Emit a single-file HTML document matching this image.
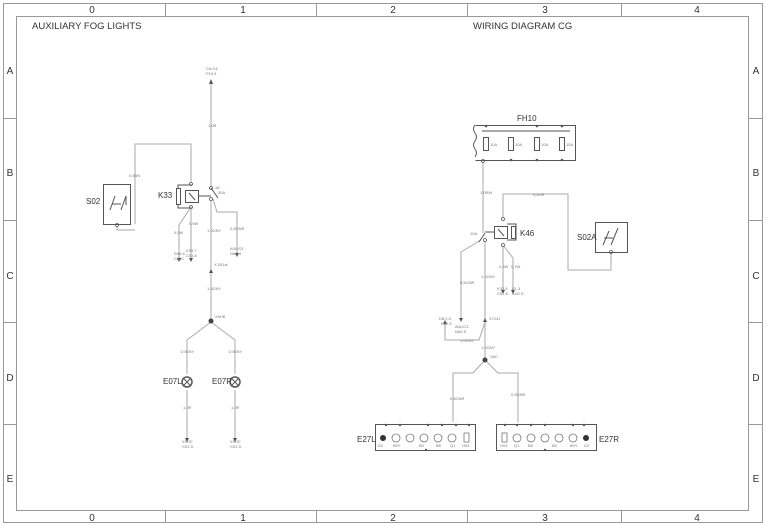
<!DOCTYPE html>
<html><head><meta charset="utf-8"><style>
html,body{margin:0;padding:0;background:#fff}
svg{display:block}
text{font-family:"Liberation Sans",sans-serif}
.s{font-size:4px;fill:#777}
</style></head><body>
<svg width="766" height="526" viewBox="0 0 766 526" xmlns="http://www.w3.org/2000/svg">
<g fill="none" stroke="#999" stroke-width="1">
<rect x="3.5" y="3.5" width="759" height="519"/>
<rect x="16.5" y="16.5" width="732" height="494"/>
<path d="M165.5 3v13M316.5 3v13M467.5 3v13M621.5 3v13M165.5 511v12M316.5 511v12M467.5 511v12M621.5 511v12"/>
<path d="M3 118.5h13M3 220.5h13M3 322.5h13M3 424.5h13M749 118.5h14M749 220.5h14M749 322.5h14M749 424.5h14"/>
</g>
<g font-size="10" fill="#333" text-anchor="middle">
<text x="92" y="13">0</text><text x="243" y="13">1</text><text x="393" y="13">2</text><text x="545" y="13">3</text><text x="697" y="13">4</text>
<text x="92" y="521">0</text><text x="243" y="521">1</text><text x="393" y="521">2</text><text x="545" y="521">3</text><text x="697" y="521">4</text>
<text x="10" y="74">A</text><text x="10" y="176">B</text><text x="10" y="279">C</text><text x="10" y="381">D</text><text x="10" y="482">E</text>
<text x="756" y="74">A</text><text x="756" y="176">B</text><text x="756" y="279">C</text><text x="756" y="381">D</text><text x="756" y="482">E</text>
</g>
<text x="32" y="29" font-size="9.5" fill="#333">AUXILIARY FOG LIGHTS</text>
<text x="473" y="29" font-size="9.5" fill="#333">WIRING DIAGRAM CG</text>

<!-- LEFT CIRCUIT -->
<g fill="none" stroke="#aaa" stroke-width="1">
<path d="M211 82V188M211 199V322M211 322L187 340V374M211 322L235 340V374M187 390V440M235 390V440"/>
<path d="M135 224V144H191V184M117 224V230H135"/>
<path d="M191 207L179 225V260M191 207V260M213 199L217 212H237V255"/>
</g>
<g fill="#555">
<path d="M209 84l2-5 2 5z"/>
<path d="M177 258l2 4 2-4zM189 258l2 4 2-4zM235 253l2 4 2-4zM185 438l2 4 2-4zM233 438l2 4 2-4zM209 273l2-4 2 4z"/>
</g>
<g fill="#fff" stroke="#555" stroke-width="0.8">
<circle cx="191" cy="184" r="1.5"/><circle cx="191" cy="207" r="1.5"/><circle cx="211" cy="188" r="1.5"/><circle cx="211" cy="199" r="1.5"/><circle cx="117" cy="225" r="1.5"/>
</g>
<g fill="none" stroke="#555" stroke-width="1">
<rect x="103.5" y="184.5" width="27" height="40"/>
<path d="M110 210l5-14M112 204h9M121 210l5-14M126 196v9"/>
<rect x="176.5" y="188.5" width="4" height="16"/>
<path d="M178 188v-3h14M178 205v3h14"/>
<rect x="185.5" y="190.5" width="13" height="12"/>
<path d="M189 193l6 7M199 196h12M211 188l7 10"/>
</g>
<circle cx="211" cy="321" r="2.5" fill="#444"/>
<circle cx="187" cy="382" r="5" fill="none" stroke="#555" stroke-width="1.5"/>
<circle cx="235" cy="382" r="5" fill="none" stroke="#555" stroke-width="1.5"/>
<path d="M183 378l8 8M191 378l-8 8M231 378l8 8M239 378l-8 8" stroke="#555"/>
<text x="86" y="204" font-size="8" fill="#333">S02</text>
<text x="158" y="198" font-size="8" fill="#333">K33</text>
<text x="163" y="384" font-size="8" fill="#333">E07L</text>
<text x="212" y="384" font-size="8" fill="#333">E07R</text>
<g class="s">
<text x="206" y="70">C6:3.6</text><text x="206" y="75">P10.4</text>
<text x="208" y="127">1,0R</text><text x="129" y="177">0,5BN</text>
<text x="215" y="189">18</text><text x="218" y="194">30A</text><text x="174" y="234">0,5W</text><text x="189" y="225">0,5W</text>
<text x="207" y="232">1,0GNY</text><text x="230" y="230">0,5GNR</text>
<text x="174" y="255">R45.8</text><text x="174" y="260">C65C</text><text x="186" y="252">K33.7</text><text x="186" y="257">C53.8</text>
<text x="230" y="250">A0L/S3</text><text x="230" y="255">NA0.9</text><text x="214" y="266">X:201al</text>
<text x="207" y="290">1,0GNY</text><text x="215" y="318">X9H8</text>
<text x="180" y="353">1,0GNY</text><text x="228" y="353">1,0GNY</text>
<text x="183" y="409">1,0R</text><text x="231" y="409">1,0R</text>
<text x="182" y="443">X9HC</text><text x="182" y="448">C51 D</text><text x="230" y="443">X9HC</text><text x="230" y="448">C51 D</text>
</g>

<!-- RIGHT CIRCUIT -->
<g fill="none" stroke="#aaa" stroke-width="1">
<path d="M483 160V233M481 240L461 252V320M485 240V360M485 360L473 373H453V422M485 360L498 373H518V422"/>
<path d="M503 218V194H568V270H611V252"/>
<path d="M503 245V292M503 245L513 258V292M485 322L479 340H445V322"/>
</g>
<g fill="#555">
<path d="M501 290l2 4 2-4zM511 290l2 4 2-4zM459 318l2 4 2-4zM443 324l2-4 2 4zM483 322l2-4 2 4z"/>
<circle cx="486" cy="126" r="1.3"/><circle cx="537" cy="126" r="1.3"/><circle cx="562" cy="126" r="1.3"/><circle cx="511" cy="160" r="1.3"/><circle cx="537" cy="160" r="1.3"/><circle cx="562" cy="160" r="1.3"/>
<circle cx="386" cy="425" r="1.2"/><circle cx="400" cy="425" r="1.2"/><circle cx="428" cy="425" r="1.2"/><circle cx="442" cy="425" r="1.2"/><circle cx="456" cy="425" r="1.2"/><circle cx="469" cy="425" r="1.2"/><circle cx="426" cy="450" r="1.2"/>
<circle cx="505" cy="425" r="1.2"/><circle cx="517" cy="425" r="1.2"/><circle cx="531" cy="425" r="1.2"/><circle cx="545" cy="425" r="1.2"/><circle cx="573" cy="425" r="1.2"/><circle cx="584" cy="425" r="1.2"/><circle cx="545" cy="450" r="1.2"/>
</g>
<g fill="#fff" stroke="#555" stroke-width="0.8">
<circle cx="483" cy="161" r="1.5"/><circle cx="503" cy="219" r="1.5"/><circle cx="503" cy="245" r="1.5"/><circle cx="485" cy="240" r="1.5"/><circle cx="611" cy="252" r="1.5"/>
</g>
<g fill="none" stroke="#555" stroke-width="1">
<path d="M475.5 125.5H575.5V160.5H475.5"/>
<path d="M475 125q-3 4 0 8q3 4 0 8q-3 4 0 8q3 4 0 8"/>
<path d="M482 131H570"/>
<rect x="483.5" y="137.5" width="5" height="13"/><rect x="508.5" y="137.5" width="5" height="13"/>
<rect x="534.5" y="137.5" width="5" height="13"/><rect x="559.5" y="137.5" width="5" height="13"/>
<rect x="494.5" y="226.5" width="13" height="12"/>
<path d="M498 229l6 7M507 224h9v16h-9"/>
<rect x="511.5" y="226.5" width="4" height="12"/>
<path d="M494 232h-9M485 233l-6 9"/>
<rect x="595.5" y="222.5" width="32" height="30"/>
<path d="M603 245l6-14M604 238h9M611 245l7-17"/>
<rect x="375.5" y="424.5" width="100" height="26"/>
<rect x="496.5" y="424.5" width="100" height="26"/>
</g>
<g fill="none" stroke="#777" stroke-width="0.8">
<circle cx="396" cy="438" r="4"/><circle cx="410" cy="438" r="4"/><circle cx="424" cy="438" r="4"/><circle cx="438" cy="438" r="4"/><circle cx="452" cy="438" r="4"/>
<circle cx="517" cy="438" r="4"/><circle cx="531" cy="438" r="4"/><circle cx="545" cy="438" r="4"/><circle cx="559" cy="438" r="4"/><circle cx="573" cy="438" r="4"/>
<rect x="464" y="433" width="5" height="9"/><rect x="502" y="433" width="5" height="9"/>
</g>
<circle cx="383" cy="438" r="3" fill="#333"/><circle cx="586" cy="438" r="3" fill="#333"/>
<circle cx="485" cy="360" r="2.5" fill="#444"/>
<text x="517" y="121" font-size="8" fill="#333">FH10</text>
<text x="520" y="236" font-size="8" fill="#333">K46</text>
<text x="577" y="240" font-size="8" fill="#333">S02A</text>
<text x="357" y="442" font-size="8" fill="#333">E27L</text>
<text x="599" y="442" font-size="8" fill="#333">E27R</text>
<g class="s">
<text x="490" y="146">10A</text><text x="515" y="146">10A</text><text x="541" y="146">10A</text><text x="566" y="146">15A</text>
<text x="480" y="194">1,0RW</text><text x="533" y="196">0,5OR</text>
<text x="470" y="235">10A</text><text x="460" y="284">0,5GNR</text><text x="481" y="278">1,0GNY</text>
<text x="499" y="268">0,5W</text><text x="511" y="268">0,7W</text>
<text x="497" y="290">K32.8</text><text x="497" y="295">C51.8</text><text x="512" y="290">K1.3</text><text x="512" y="295">A0G E</text>
<text x="439" y="320">D8.2 D</text><text x="441" y="325">K62.3</text><text x="455" y="328">A0L/C3</text><text x="455" y="333">NA0 E</text>
<text x="489" y="320">X714J</text><text x="460" y="342">1,0GNY</text><text x="481" y="349">1,0GNY</text>
<text x="490" y="358">X8C</text><text x="450" y="400">0,5GNR</text><text x="511" y="396">0,5GNR</text>
<text x="378" y="447">D2</text><text x="393" y="447">B9Y</text><text x="419" y="447">B0</text><text x="436" y="447">B6</text><text x="450" y="447">Q1</text><text x="462" y="447">H03</text>
<text x="500" y="447">H03</text><text x="514" y="447">Q1</text><text x="528" y="447">B6</text><text x="552" y="447">B0</text><text x="570" y="447">B9Y</text><text x="584" y="447">D2</text>
</g>
</svg>
</body></html>
